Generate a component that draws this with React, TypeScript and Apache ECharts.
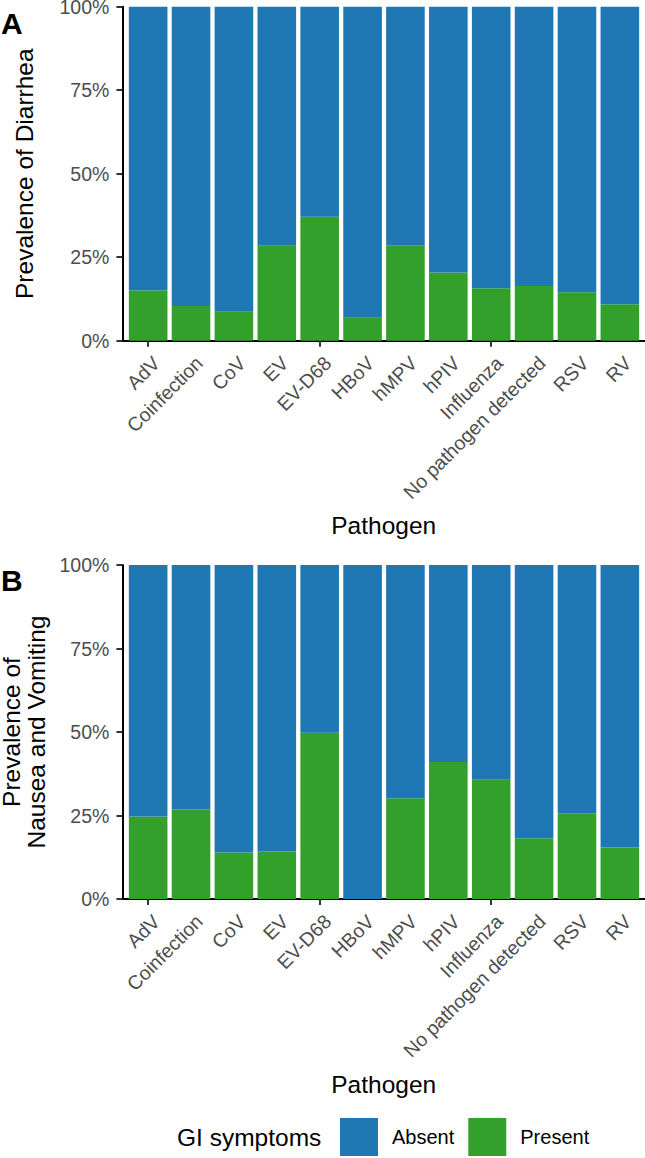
import React, { useEffect, useRef } from "react";
import * as echarts from "echarts";

const pathogens = [
  "AdV",
  "Coinfection",
  "CoV",
  "EV",
  "EV-D68",
  "HBoV",
  "hMPV",
  "hPIV",
  "Influenza",
  "No pathogen detected",
  "RSV",
  "RV",
];
const diarrheaPresent = [15.0, 10.4, 8.7, 28.4, 37.1, 6.9, 28.6, 20.4, 15.7, 16.4, 14.5, 10.9];
const diarrheaAbsent = [85.0, 89.6, 91.3, 71.6, 62.9, 93.1, 71.4, 79.6, 84.3, 83.6, 85.5, 89.1];
const nauseaPresent = [24.7, 26.8, 13.9, 14.2, 49.8, 0, 30.2, 41.0, 35.7, 18.2, 25.7, 15.4];
const nauseaAbsent = [75.3, 73.2, 86.1, 85.8, 50.2, 100, 69.8, 59.0, 64.3, 81.8, 74.3, 84.6];
const yTickStep = 25;
const legendNames = ["Absent", "Present"];
const panelTitles = ["Prevalence of Diarrhea", "Prevalence of\nNausea and Vomiting"];
const panelTags = ["A", "B"];
const xTitle = "Pathogen";
const legendTitle = "GI symptoms";

const FONT = "'Liberation Sans', Arial, Helvetica, sans-serif";
const BLUE = "#1F78B4";
const GREEN = "#33A02C";

export default function App() {
  const ref = useRef<HTMLDivElement>(null);

  useEffect(() => {
    if (!ref.current) return;
    const chart = echarts.init(ref.current, null, { renderer: "svg" });

    const panels = [
      { top: 6.7, present: diarrheaPresent, absent: diarrheaAbsent, title: panelTitles[0], gap: 98 },
      { top: 565, present: nauseaPresent, absent: nauseaAbsent, title: panelTitles[1], gap: 97.2 },
    ];
    const H = 334;
    const barLeft = 126.7;
    const barWidth = 514.6;
    const axLeft = 122.4;
    const axWidth = 522.6;
    const labelDx = 8;
    const labelMargin = 19;

    const grid: any[] = [];
    const xAxis: any[] = [];
    const yAxis: any[] = [];
    const series: any[] = [];

    panels.forEach((p, i) => {
      const b = i * 3;
      grid.push(
        { left: barLeft, width: barWidth, top: p.top, height: H, containLabel: false, outerBoundsMode: "none" },
        { left: axLeft, width: axWidth, top: p.top, height: H, containLabel: false, outerBoundsMode: "none" },
        { left: barLeft + labelDx, width: barWidth, top: p.top, height: H, containLabel: false, outerBoundsMode: "none" }
      );
      xAxis.push(
        {
          type: "category",
          gridIndex: b,
          data: pathogens,
          axisLine: { show: false },
          axisTick: { show: true, alignWithLabel: true, length: 6, lineStyle: { color: "#333333", width: 2 } },
          axisLabel: { show: false },
          splitLine: { show: false },
        },
        {
          type: "value",
          gridIndex: b + 1,
          min: 0,
          max: 1,
          axisLine: { show: true, lineStyle: { color: "#000000", width: 2 } },
          axisTick: { show: false },
          axisLabel: { show: false },
          splitLine: { show: false },
          name: xTitle,
          nameLocation: "middle",
          nameGap: 185,
          nameTextStyle: { fontSize: 24.5, color: "#000000", fontFamily: FONT, verticalAlign: "middle" },
        },
        {
          type: "category",
          gridIndex: b + 2,
          data: pathogens,
          axisLine: { show: false },
          axisTick: { show: false },
          splitLine: { show: false },
          axisLabel: {
            show: true,
            interval: 0,
            rotate: 45,
            margin: labelMargin,
            fontSize: 19.5,
            color: "#4D4D4D",
            fontFamily: FONT,
          },
        }
      );
      yAxis.push(
        { type: "value", gridIndex: b, min: 0, max: 100, show: false },
        {
          type: "value",
          gridIndex: b + 1,
          min: 0,
          max: 100,
          interval: yTickStep,
          axisLine: { show: true, lineStyle: { color: "#000000", width: 2 } },
          axisTick: { show: true, length: 6, lineStyle: { color: "#333333", width: 2 } },
          axisLabel: {
            show: true,
            margin: 13,
            fontSize: 19.5,
            color: "#4D4D4D",
            fontFamily: FONT,
            formatter: (v: number) => `${v}%`,
          },
          splitLine: { show: false },
          name: p.title,
          nameLocation: "middle",
          nameRotate: 90,
          nameGap: p.gap,
          nameTextStyle: {
            fontSize: 24.5,
            color: "#000000",
            fontFamily: FONT,
            lineHeight: 25,
            verticalAlign: "middle",
            align: "center",
          },
        },
        { type: "value", gridIndex: b + 2, min: 0, max: 100, show: false }
      );
      series.push(
        {
          type: "bar",
          name: "Present",
          xAxisIndex: b,
          yAxisIndex: b,
          stack: "s" + i,
          barCategoryGap: "10%",
          data: p.present,
          itemStyle: { color: GREEN },
          emphasis: { disabled: true },
        },
        {
          type: "bar",
          name: "Absent",
          xAxisIndex: b,
          yAxisIndex: b,
          stack: "s" + i,
          barCategoryGap: "10%",
          data: p.absent,
          itemStyle: { color: BLUE },
          emphasis: { disabled: true },
        }
      );
    });

    chart.setOption({
      animation: false,
      backgroundColor: "#ffffff",
      textStyle: { fontFamily: FONT },
      grid,
      xAxis,
      yAxis,
      series,
      legend: {
        data: legendNames,
        left: 340,
        top: 1118,
        padding: 0,
        itemWidth: 38,
        itemHeight: 38,
        itemGap: 14,
        icon: "rect",
        selectedMode: false,
        textStyle: { fontSize: 20, color: "#000000", fontFamily: FONT, padding: [0, 0, 0, 9] },
      },
      graphic: [
        {
          type: "text",
          left: 1,
          top: 8,
          style: { text: panelTags[0], fontSize: 30, fontWeight: "bold", fill: "#000000", fontFamily: FONT },
        },
        {
          type: "text",
          left: 1,
          top: 565,
          style: { text: panelTags[1], fontSize: 30, fontWeight: "bold", fill: "#000000", fontFamily: FONT },
        },
        {
          type: "text",
          x: 177,
          y: 1137,
          style: {
            text: legendTitle,
            fontSize: 24.5,
            fill: "#000000",
            fontFamily: FONT,
            verticalAlign: "middle",
            align: "left",
          },
        },
      ],
    });

    return () => chart.dispose();
  }, []);

  return (
    <div
      ref={ref}
      style={{ position: "absolute", left: 0, top: 0, width: 645, height: 1158, background: "#fff" }}
    />
  );
}
